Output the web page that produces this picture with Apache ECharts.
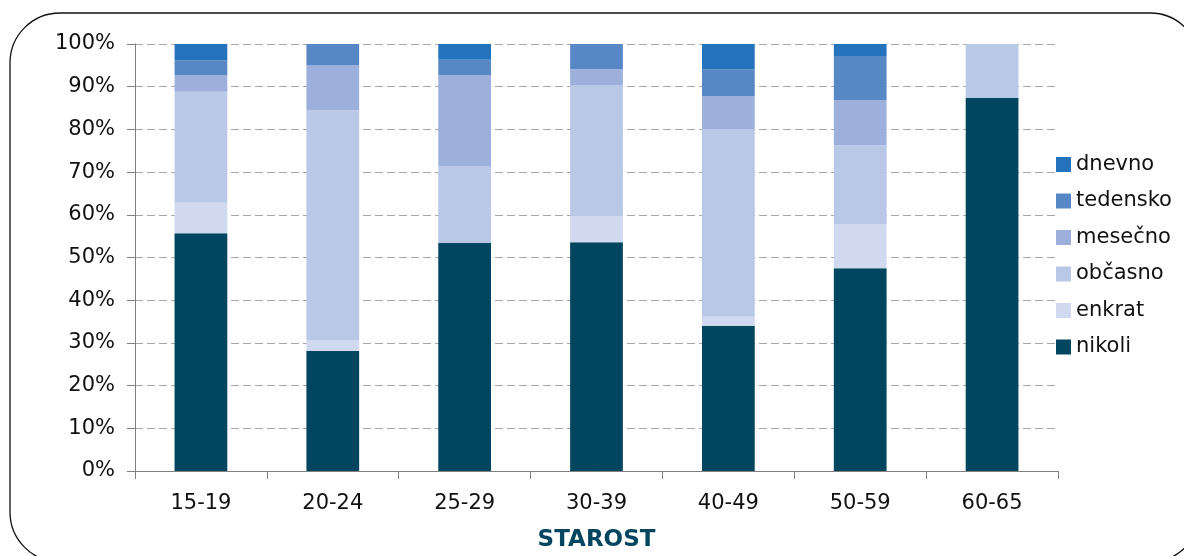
<!DOCTYPE html>
<html>
<head>
<meta charset="utf-8">
<script src="https://cdn.jsdelivr.net/npm/echarts@6/dist/echarts.min.js"></script>
<style>
  html, body { margin: 0; padding: 0; background: #ffffff; }
  #chart { width: 1184px; height: 556px; }
</style>
</head>
<body>
<div id="chart"></div>
<script>
// Age groups and the share (%) of each answer per group
const categories = ['15-19', '20-24', '25-29', '30-39', '40-49', '50-59', '60-65'];
const nikoli   = [55.7, 28.1, 53.4, 53.6, 34.0, 47.5, 87.4];
const enkrat   = [7.1, 2.6, 0, 6.1, 2.1, 10.3, 0];
const obcasno  = [26.0, 53.8, 18.0, 30.7, 44.0, 18.5, 12.6];
const mesecno  = [3.9, 10.6, 21.3, 3.7, 7.7, 10.6, 0];
const tedensko = [3.5, 4.9, 3.6, 5.9, 6.3, 10.3, 0];
const dnevno   = [3.8, 0, 3.7, 0, 5.9, 2.8, 0];
const yTicks   = [0, 10, 20, 30, 40, 50, 60, 70, 80, 90, 100];

const seriesDefs = [
  { name: 'nikoli',   data: nikoli,   color: '#02455e' },
  { name: 'enkrat',   data: enkrat,   color: '#d0d9f0' },
  { name: 'občasno',  data: obcasno,  color: '#b8c8e6' },
  { name: 'mesečno',  data: mesecno,  color: '#9cb0db' },
  { name: 'tedensko', data: tedensko, color: '#5787c5' },
  { name: 'dnevno',   data: dnevno,   color: '#2473bc' }
];

const font = 'DejaVu Sans, Verdana, sans-serif';
const chart = echarts.init(document.getElementById('chart'), null, { renderer: 'canvas' });

chart.setOption({
  animation: false,
  backgroundColor: '#ffffff',
  graphic: [{
    type: 'rect',
    shape: { x: 10, y: 13, width: 1190, height: 549, r: 50 },
    style: { fill: 'none', stroke: '#111111', lineWidth: 1.3 },
    silent: true,
    z: -1
  }],
  grid: { left: 135, right: 126, top: 44, bottom: 85, outerBoundsMode: 'none', containLabel: false },
  legend: {
    orient: 'vertical',
    left: 1051,
    top: 149,
    itemWidth: 15,
    itemHeight: 15,
    itemGap: 15.5,
    icon: 'rect',
    data: seriesDefs.map(s => s.name).reverse(),
    textStyle: { fontFamily: font, fontSize: 21, lineHeight: 20, color: '#111111' }
  },
  xAxis: {
    type: 'category',
    data: categories,
    boundaryGap: true,
    name: 'STAROST',
    nameLocation: 'middle',
    nameGap: 58,
    nameTextStyle: { fontFamily: font, fontSize: 23, fontWeight: 'bold', color: '#02455e' },
    axisLine: { lineStyle: { color: '#808080', width: 1 } },
    axisTick: { show: true, length: 8, lineStyle: { color: '#808080' } },
    axisLabel: { fontFamily: font, fontSize: 21, color: '#111111', margin: 22 }
  },
  yAxis: {
    type: 'value',
    min: 0,
    max: 100,
    interval: 10,
    axisLine: { show: true, lineStyle: { color: '#808080', width: 1 } },
    axisTick: { show: true, length: 8, lineStyle: { color: '#808080' } },
    axisLabel: {
      fontFamily: font, fontSize: 21, color: '#111111', margin: 20,
      formatter: v => (yTicks.indexOf(v) >= 0 ? v + '%' : '')
    },
    splitLine: { show: true, lineStyle: { color: '#a8a8a8', type: [8, 4], width: 1 } }
  },
  series: seriesDefs.map(s => ({
    name: s.name,
    type: 'bar',
    stack: 'total',
    barWidth: '40%',
    data: s.data,
    itemStyle: { color: s.color },
    emphasis: { disabled: true }
  }))
});
</script>
</body>
</html>
